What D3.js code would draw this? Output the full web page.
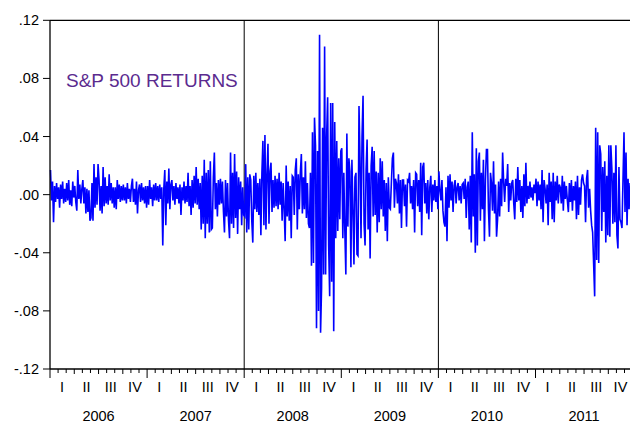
<!DOCTYPE html>
<html><head><meta charset="utf-8">
<script src="https://cdn.jsdelivr.net/npm/d3@7/dist/d3.min.js"></script>
<style>html,body{margin:0;padding:0;background:#fff;overflow:hidden}</style>
</head><body>
<svg id="chart" width="630" height="423"></svg>
<script>
// Daily S&P 500 returns (percent), 8 readings per month
const years = [2006, 2007, 2008, 2009, 2010, 2011];
const returns2006 = [
 1.7,-0.4,0.9,-1.9,0.6,-0.5,0.8,-0.3,  0.5,-0.9,0.7,-0.3,0.9,-0.6,0.4,-0.5,
 0.8,-0.4,1.0,-0.7,0.3,-0.8,0.9,-0.2,  0.6,-0.5,-1.1,1.7,-0.3,0.7,-0.6,0.4,
 1.0,-0.6,0.5,-1.3,0.4,-1.2,0.3,-1.8,  -1.6,0.8,-1.8,2.1,-0.9,1.2,-0.7,2.1,
 1.0,-1.1,0.6,-1.3,1.9,-0.8,1.2,-0.6,  0.6,-0.7,1.4,-0.4,0.8,-0.6,0.5,-0.9,
 0.5,-1.0,1.0,-0.3,0.7,-0.5,0.6,-0.4,  0.7,-0.4,0.5,-0.6,0.8,-0.3,0.4,-0.5,
 0.6,1.1,-0.5,0.4,-0.7,0.9,-1.3,0.3,  0.7,-0.5,0.8,-0.4,0.5,-0.6,0.6,-0.9];
const returns2007 = [
 0.6,-0.7,1.0,-0.3,0.5,-0.8,0.7,-0.4,  0.8,-0.4,0.6,-0.5,0.7,-0.3,0.5,-3.5,
 0.4,1.7,-2.1,0.9,-0.6,1.8,-1.0,0.7,  1.0,-0.4,0.6,-0.7,0.8,-0.3,0.5,-0.6,
 0.7,-1.4,0.5,-0.4,0.9,-0.6,0.6,-0.5,  1.5,-0.8,0.6,-1.4,1.0,-0.9,1.3,-0.6,
 1.9,-0.7,1.1,-1.0,0.8,-2.4,1.3,-2.0,  2.4,-3.0,1.5,-2.0,1.7,-2.6,2.3,-2.4,
 -2.3,1.2,2.9,-1.0,0.8,-1.5,1.0,-0.7,  1.1,-0.6,0.9,-1.2,-2.6,1.0,-1.5,0.8,
 -1.8,-3.0,2.9,-2.0,1.5,-2.3,2.8,-1.6,  1.6,-2.7,1.2,-1.0,0.9,-2.1,0.5,-1.4];
const returns2008 = [
 -1.5,2.1,-2.6,1.2,-2.4,1.4,1.0,-1.8,  -3.3,1.3,-1.0,1.5,-1.2,0.8,-1.4,1.1,
 -2.8,1.5,3.7,-2.1,4.1,-2.4,1.4,3.5,  -2.0,1.6,2.2,-1.2,1.0,-0.9,1.3,-0.8,
 1.1,-1.0,1.5,-0.7,0.9,-1.8,0.8,-1.0,  -3.2,2.0,-1.5,0.9,-1.8,0.6,-3.0,1.3,
 1.2,-1.4,1.7,2.5,-2.4,1.4,-1.0,1.5,  2.8,-1.3,1.2,-1.0,2.3,-1.6,0.8,-2.0,
 -2.3,1.5,-4.9,4.3,-4.7,5.3,3.4,-9.2,  3.0,-8.0,11.0,-9.5,-6.4,4.6,-5.5,10.2,
 -5.5,4.0,6.7,-3.5,-7.0,6.3,-6.0,6.3,  -9.4,5.0,-3.0,3.7,-2.5,2.5,-1.7,3.0];
const returns2009 = [
 3.2,-3.0,1.5,-2.5,-5.5,4.2,-2.2,2.5,  1.6,-5.0,2.4,-1.0,-4.8,1.2,1.5,-4.1,
 -4.2,6.1,2.5,-3.0,4.0,6.8,-2.0,-3.5,  1.7,3.8,-2.4,1.5,-4.4,2.0,3.3,-1.5,
 3.0,-1.4,1.6,-2.6,1.5,-1.9,2.5,-1.0,  2.3,-1.5,1.0,-2.5,0.8,-3.2,1.2,-0.9,
 -1.0,0.8,2.5,2.9,-0.9,1.1,0.8,-0.6,  1.4,-1.3,1.0,-2.3,1.0,1.0,-0.8,0.7,
 -2.2,1.0,0.9,1.5,-0.6,0.6,-1.0,1.0,  -2.6,1.5,1.4,-0.8,1.0,-1.2,2.2,-2.8,
 1.9,2.2,-0.6,0.8,-1.3,1.0,-1.7,0.5,  1.3,-1.2,0.7,-0.4,1.0,-0.5,0.6,-1.0];
const returns2010 = [
 1.6,0.3,-0.4,1.0,-1.1,-1.9,-2.2,0.5,  -3.2,1.3,-0.9,1.4,-0.4,0.9,-1.2,0.6,
 1.0,-0.6,0.5,0.8,-0.4,0.6,-0.6,0.7,  0.8,-0.3,1.1,-1.6,0.5,0.9,-2.4,1.3,
 -3.3,4.3,-1.5,1.4,-4.0,3.2,-3.5,2.3,  2.9,-1.8,1.5,-1.0,2.4,-3.2,1.0,3.1,
 3.1,-1.0,-2.9,1.5,0.8,-1.1,2.3,-1.3,  0.7,-2.9,-1.7,0.9,-1.5,1.1,-0.8,2.9,
 0.9,-0.5,1.1,0.6,2.1,-1.2,0.8,-0.4,  0.8,1.0,-0.6,-1.7,1.1,-0.5,1.9,-0.4,
 1.0,-1.2,0.6,-1.6,1.4,-0.8,2.2,-0.6,  0.6,-0.3,0.9,-0.2,0.5,-0.4,0.7,0.1];
const returns2011 = [
 1.1,-0.8,0.9,-0.4,0.7,-1.0,1.7,-1.9,  1.0,0.4,-0.6,0.7,-2.1,1.5,-0.5,0.9,
 -1.7,1.5,-1.9,0.9,-0.4,1.3,-0.6,0.7,  0.5,-0.6,1.3,-1.1,0.9,-0.3,0.6,-0.4,
 -1.2,0.8,-0.5,1.0,-1.1,0.6,-0.4,0.9,  -1.7,1.3,-1.4,0.5,-0.7,1.0,1.4,0.8,
 0.6,-1.9,1.1,1.7,-0.9,0.4,-1.1,-2.1,  -2.6,-4.8,-7.0,4.6,-4.5,4.3,-4.7,3.4,
 2.8,-2.5,1.9,-1.2,2.3,-3.3,1.3,-2.8,  3.4,-2.9,3.4,1.8,-2.0,1.5,-1.9,3.4,
 -2.8,-3.7,1.9,-1.7,-1.9,-2.3,1.0,4.3,  -1.2,2.9,-2.1,1.1,-1.0,0.8,-1.3,1.1];
const yearSeries = [returns2006, returns2007, returns2008, returns2009, returns2010, returns2011];
const quarterLabels = ["I", "II", "III", "IV"];
const yTickValues = [0.12, 0.08, 0.04, 0.00, -0.04, -0.08, -0.12];
const dividerYears = [2008, 2010];
const titleText = "S&P 500 RETURNS";

const data = [];
yearSeries.forEach((arr, k) => {
  arr.forEach((v, i) => data.push({ t: years[k] + (i + 0.5) / arr.length, r: v / 100 }));
});

const svg = d3.select("#chart");
const L = 50, R = 632.6, T = 20.3, B = 369;
const x = d3.scaleLinear().domain([2006, 2012]).range([L, R]);
const y = d3.scaleLinear().domain([-0.12, 0.12]).range([B, T]);
const font = "'Liberation Sans', Arial, sans-serif";

// divider lines
svg.selectAll("line.div").data(dividerYears).enter().append("line")
  .attr("x1", d => x(d)).attr("x2", d => x(d)).attr("y1", T).attr("y2", B)
  .attr("stroke", "#000").attr("stroke-width", 1);

// series
svg.append("path").datum(data)
  .attr("fill", "none").attr("stroke", "#0000ff").attr("stroke-width", 1.6)
  .attr("stroke-linejoin", "miter")
  .attr("d", d3.line().x(d => x(d.t)).y(d => y(d.r)));

// frame: top and left and bottom
svg.append("line").attr("x1", L).attr("x2", 630).attr("y1", T).attr("y2", T).attr("stroke", "#000").attr("stroke-width", 1.3);
svg.append("line").attr("x1", L).attr("x2", L).attr("y1", T).attr("y2", B).attr("stroke", "#000").attr("stroke-width", 1.3);
svg.append("line").attr("x1", L).attr("x2", 630).attr("y1", B).attr("y2", B).attr("stroke", "#000").attr("stroke-width", 1.3);

// y axis ticks and labels
const fmt = v => {
  const s = d3.format(".2f")(Math.abs(v)).replace(/^0/, "");
  return (v < -1e-9 ? "-" : "") + s;
};
svg.selectAll("line.yt").data(yTickValues).enter().append("line")
  .attr("x1", L - 7).attr("x2", L).attr("y1", d => y(d)).attr("y2", d => y(d))
  .attr("stroke", "#000").attr("stroke-width", 1);
svg.selectAll("text.yl").data(yTickValues).enter().append("text")
  .attr("x", 39).attr("y", d => y(d) + 5).attr("text-anchor", "end")
  .attr("font-family", font).attr("font-size", 14.5).attr("fill", "#000")
  .text(fmt);

// x ticks: monthly, quarterly, yearly
const months = d3.range(0, 72).map(m => 2006 + m / 12);
svg.selectAll("line.xt").data(months).enter().append("line")
  .attr("x1", d => x(d)).attr("x2", d => x(d)).attr("y1", B)
  .attr("y2", (d, i) => B + (i % 12 === 0 ? 9 : (i % 3 === 0 ? 5 : 4)))
  .attr("stroke", "#000").attr("stroke-width", 1);

// quarter labels
const quarters = [];
years.forEach(yr => quarterLabels.forEach((q, i) => quarters.push({ t: yr + (i + 0.5) / 4, q })));
svg.selectAll("text.ql").data(quarters).enter().append("text")
  .attr("x", d => x(d.t)).attr("y", 392).attr("text-anchor", "middle")
  .attr("font-family", font).attr("font-size", 14.5).attr("fill", "#000")
  .text(d => d.q);

// year labels
svg.selectAll("text.yrl").data(years).enter().append("text")
  .attr("x", d => x(d + 0.5)).attr("y", 421).attr("text-anchor", "middle")
  .attr("font-family", font).attr("font-size", 14.5).attr("fill", "#000")
  .text(d => d);

// title
svg.append("text").attr("x", 66).attr("y", 87)
  .attr("font-family", font).attr("font-size", 19).attr("fill", "#5b2b8f")
  .text(titleText);
</script>
</body></html>
